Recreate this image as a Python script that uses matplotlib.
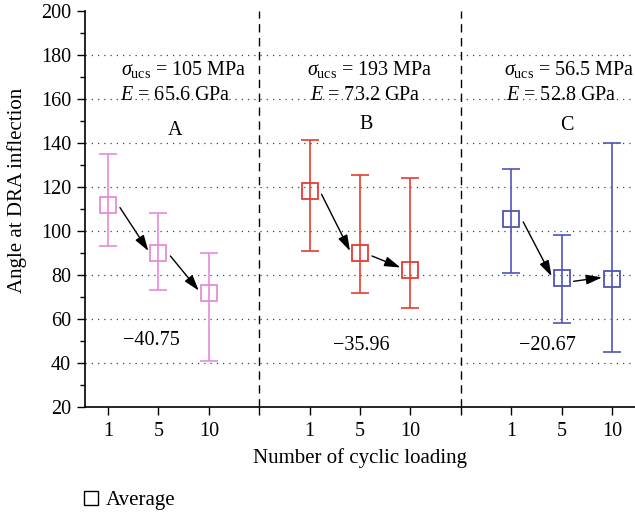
import matplotlib
matplotlib.use("Agg")
import matplotlib.pyplot as plt
import matplotlib.transforms as mtransforms
from matplotlib.lines import Line2D
from matplotlib.ticker import MultipleLocator

plt.rcParams['font.family'] = ['Liberation Serif', 'DejaVu Serif']
plt.rcParams['mathtext.fontset'] = 'custom'
plt.rcParams['mathtext.rm'] = 'Liberation Serif'
plt.rcParams['mathtext.it'] = 'Liberation Serif:italic'

# ---- data ----
groups = ['A', 'B', 'C']
cycles = ['1', '5', '10']
means_A = [112, 90, 72]
upper_A = [135, 108, 90]
lower_A = [93, 73, 41]
means_B = [118, 90, 82.5]
upper_B = [141.5, 125.5, 124]
lower_B = [91, 72, 65]
means_C = [105.5, 78.5, 78]
upper_C = [128, 98, 140]
lower_C = [81, 58, 45]
sigma_ucs = ['105', '193', '56.5']
modulus_E = ['65.6', '73.2', '52.8']
changes = ['\u221240.75', '\u221235.96', '\u221220.67']
colors = ['#e88bd8', '#e53c32', '#4f55b5']

means = [means_A, means_B, means_C]
uppers = [upper_A, upper_B, upper_C]
lowers = [lower_A, lower_B, lower_C]

fig = plt.figure(figsize=(6.35, 5.2), dpi=100)
ax = fig.add_axes([85/635, 113/520, 550/635, 396/520])

fs_ann = 14.5
fs_tick = 14.5
fs_lab = 15
for g in range(3):
    xs = [4*g + 1 + i for i in range(3)]
    m = means[g]
    yerr = [[m[i] - lowers[g][i] for i in range(3)], [uppers[g][i] - m[i] for i in range(3)]]
    ax.errorbar(xs, m, yerr=yerr, fmt='none', ecolor=colors[g], elinewidth=1.2,
                capsize=6.5, capthick=1.2, zorder=3)
    ax.plot(xs, m, linestyle='none', marker='s', markersize=12, markerfacecolor='none',
            markeredgecolor=colors[g], markeredgewidth=1.3, zorder=4)
    for i in range(2):
        tA = mtransforms.offset_copy(ax.transData, fig, x=12, y=-3, units='dots')
        tB = mtransforms.offset_copy(ax.transData, fig, x=-10, y=2, units='dots')
        ax.annotate('', xy=(xs[i+1], m[i+1]), xycoords=tB,
                    xytext=(xs[i], m[i]), textcoords=tA,
                    arrowprops=dict(arrowstyle='-|>,head_length=0.8,head_width=0.25',
                                    color='black', lw=1.0,
                                    shrinkA=0, shrinkB=0, mutation_scale=12),
                    zorder=5)

# annotation texts
sig_x = [2.5, 6.2, 10.15]
E_x = [2.33, 6.1, 10.0]
lab_x = [2.33, 6.13, 10.1]
lab_y = [145.8, 148.5, 148.0]
chg_x = [1.86, 6.03, 9.72]
chg_y = [50.2, 48.0, 48.0]
for g in range(3):
    ax.text(sig_x[g], 173.5, r'$\sigma_{\rm ucs}$ = ' + sigma_ucs[g] + ' MPa',
            ha='center', va='center', fontsize=fs_ann)
    ax.text(E_x[g], 161.5, r'$E$ = ' + modulus_E[g] + ' GPa',
            ha='center', va='center', fontsize=fs_ann)
    ax.text(lab_x[g], lab_y[g], groups[g], ha='center', va='center', fontsize=fs_ann)
    ax.text(chg_x[g], chg_y[g], changes[g], ha='center', va='center', fontsize=fs_ann)

# dividers
for xv in [4, 8]:
    ax.axvline(xv, color='black', linestyle=(0, (6, 4)), lw=1.0, zorder=2)

# grid
for yv in range(40, 200, 20):
    ax.axhline(yv, color='#444444', linestyle=(0, (1, 4)), lw=0.9, zorder=1)

ax.set_xlim(0.544, 11.456)
ax.set_ylim(20, 200)
ax.set_xticks([1, 2, 3, 5, 6, 7, 9, 10, 11])
ax.set_xticklabels(cycles * 3)
ax.xaxis.set_minor_locator(matplotlib.ticker.FixedLocator([4, 8]))
ax.yaxis.set_major_locator(MultipleLocator(20))
ax.yaxis.set_minor_locator(MultipleLocator(10))
ax.tick_params(axis='both', which='major', direction='out', length=6, width=1.0,
               labelsize=fs_tick, color='black')
ax.tick_params(axis='y', which='minor', direction='out', length=3.5, width=1.0)
ax.tick_params(axis='x', which='minor', direction='out', length=6, width=1.0)
ax.tick_params(axis='x', pad=5)
ax.tick_params(axis='y', pad=4)
for s in ['top', 'right']:
    ax.spines[s].set_visible(False)
for s in ['left', 'bottom']:
    ax.spines[s].set_linewidth(1.2)

ax.set_ylabel('Angle at DRA inflection', fontsize=fs_lab)
ax.set_xlabel('Number of cyclic loading', fontsize=fs_lab)
ax.xaxis.set_label_coords(0.5, -0.105)
ax.yaxis.set_label_coords(-0.105, 0.548)

handle = Line2D([], [], linestyle='none', marker='s', markersize=10.5,
                markerfacecolor='none', markeredgecolor='black', markeredgewidth=1.0)
fig.legend([handle], ['Average'], loc='center left', bbox_to_anchor=(84/635, 1 - 500/520),
           frameon=False, fontsize=fs_lab, handlelength=0.7, handletextpad=0.35,
           borderaxespad=0, borderpad=0)

fig.savefig('out.png', dpi=100)
